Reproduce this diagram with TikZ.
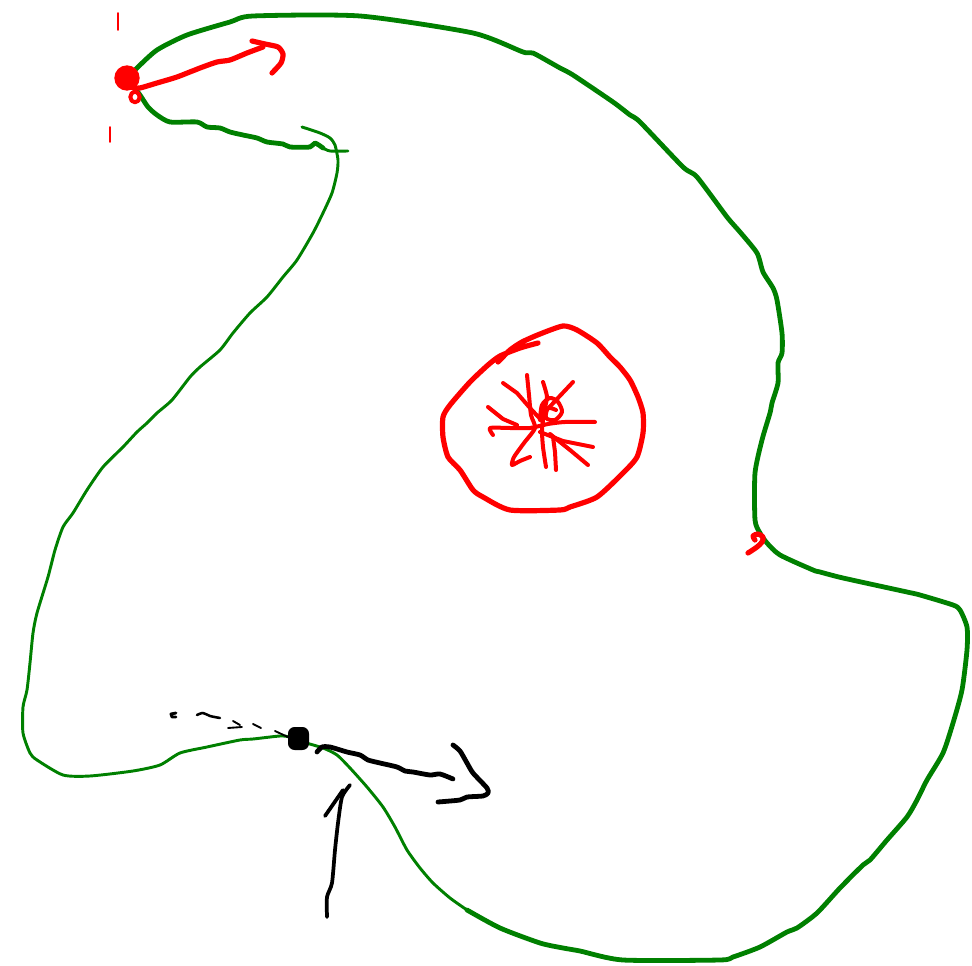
\documentclass[tikz,border=0pt]{standalone}
\usepackage{tikz}
\usetikzlibrary{positioning}

\definecolor{penGreen}{RGB}{0,128,0}
\definecolor{penRed}{RGB}{255,0,0}

\begin{document}
\begin{tikzpicture}[x=0.75pt, y=-0.75pt,
        pen/.style={line cap=round, line join=round},
        greenBold/.style={pen, draw=penGreen, line width=3.6pt},
        greenFine/.style={pen, draw=penGreen, line width=2.2pt},
        redBold/.style={pen, draw=penRed, line width=3.9pt},
        redSpoke/.style={pen, draw=penRed, line width=3pt},
        redTick/.style={pen, draw=penRed, line width=1.3pt},
        blackPen/.style={pen, draw=black, line width=3.6pt},
        blackFine/.style={pen, draw=black, line width=1.4pt}
    ]
        \useasboundingbox (0,0) rectangle (972,966);
        \coordinate (reddot) at (127,78);
        \coordinate (blackdot) at (298,739);

        % outer green rim
        \draw[greenBold] plot[smooth, tension=0.4] coordinates {(128,78) (137,68) (157,50) (187,35) (230,22) (253,16) (360,16) (473,33) (523,52) (533,53) (560,68) (573,75) (613,102) (630,115) (640,122) (683,167) (697,177) (727,217) (740,232) (757,253) (763,272) (773,288) (777,300) (782,333) (782,353) (778,363) (778,383) (772,403) (770,413) (762,440) (755,473) (755,520) (760,533) (767,543) (780,555) (813,570) (820,572) (843,578) (907,592) (920,595) (953,605) (960,610) (967,627) (967,650) (962,690) (953,723) (943,753) (927,780) (917,800) (907,817) (887,840) (870,860) (863,865) (840,888) (817,913) (797,928) (787,932) (760,947) (733,957) (720,960) (623,960) (580,951) (563,948) (540,943) (500,928) (467,910)};

        % inner green line, back round to the top
        \draw[greenFine] plot[smooth, tension=0.4] coordinates {(467,910) (450,898) (433,883) (420,868) (407,850) (395,827) (383,807) (367,787) (350,768) (337,755) (323,748) (303,742) (290,737) (280,736) (253,739) (240,740) (207,747) (180,753) (160,765) (133,771) (90,776) (63,775) (37,760) (30,753) (23,733) (23,707) (27,690) (30,663) (33,633) (37,613) (48,577) (55,550) (63,527) (73,513) (87,490) (103,467) (123,447) (137,432) (147,423) (157,413) (172,400) (190,377) (200,367) (220,350) (233,333) (250,313) (267,297) (283,277) (297,260) (313,233) (323,213) (332,193) (337,173) (338,160) (335,145) (330,138) (320,133) (302,127)};

        % wavy green edge under the red dot
        \draw[greenBold] plot[smooth, tension=0.4] coordinates {(133,86) (140,95) (148,107) (157,115) (170,122) (197,122) (207,127) (220,128) (230,132) (243,135) (257,138) (267,142) (283,144) (290,147) (310,147) (315,143) (323,148)};
        \draw[greenFine] plot[smooth, tension=0.4] coordinates {(323,148) (330,151) (348,151)};

        % red marks at the top
        \draw[redTick] (118,13) -- (118,30);
        \draw[redTick] (110,127) -- (110,142);
        \fill[penRed] (reddot) circle[radius=9.5pt];
        \draw[redSpoke] (135,97) ellipse[x radius=3.5pt, y radius=4pt];
        \draw[redBold] plot[smooth, tension=0.4] coordinates {(133,88) (140,88) (157,83) (177,77) (200,68) (217,62) (230,60) (247,53) (263,47)};
        \draw[redBold] plot[smooth, tension=0.4] coordinates {(252,41) (265,44) (278,47) (283,54) (281,63) (272,73)};

        % red hook on the right
        \draw[redBold] plot[smooth, tension=0.5] coordinates {(748,553) (757,547) (762,542) (763,537) (758,534) (753,536) (755,540)};

        % red ring
        \draw[redBold] plot[smooth, tension=0.4] coordinates {(498,362) (510,350) (522,342) (540,334) (563,326) (577,330) (597,343) (610,357) (620,367) (630,380) (638,397) (643,413) (643,433) (637,457) (623,473) (597,497) (570,507) (560,510) (510,510) (483,497) (473,490) (460,470) (448,457) (443,437) (443,417) (450,405) (470,382) (488,365) (500,356) (520,348) (538,343)};

        % red spokes in the ring
        \draw[redSpoke] (503,383) -- (517,393) -- (530,408) -- (543,422);
        \draw[redSpoke] plot[smooth, tension=0.4] coordinates {(527,375) (529,395) (531,415) (535,428) (524,443) (514,457) (512,465) (520,461) (530,457)};
        \draw[redSpoke] plot[smooth, tension=0.4] coordinates {(543,382) (547,397) (544,412) (542,430) (543,447) (546,467)};
        \draw[redSpoke] (573,382) -- (557,399) -- (543,414);
        \draw[redSpoke] (488,407) -- (503,419) -- (517,425);
        \draw[redSpoke] plot[smooth, tension=0.4] coordinates {(493,435) (490,428) (510,428) (530,428) (548,424) (565,422) (595,422)};
        \draw[redSpoke] (540,432) -- (563,441) -- (593,447);
        \draw[redSpoke] (550,434) -- (570,450) -- (588,465);
        \draw[redSpoke] (553,437) -- (555,452) -- (556,470);
        \draw[redSpoke] plot[smooth, tension=0.5] coordinates {(540,420) (542,405) (550,398) (558,402) (562,412) (555,420) (546,418) (548,408) (556,410)};

        % black marks
        \draw[blackPen, line width=2.2pt] (176,713) -- (171,714) -- (172,717) -- (176,717);
        \draw[blackPen, line width=1.9pt] plot[smooth] coordinates {(197,715) (203,713) (210,716) (220,718)};
        \draw[blackFine] (233,721) -- (240,725);
        \draw[blackFine] (228,728) -- (242,727);
        \draw[blackFine] (253,724) -- (261,728);
        \draw[blackFine] (275,731) -- (290,738);
        \fill[black, rounded corners=5pt] (288,727) rectangle (309,750);

        % black arrows
        \draw[blackPen] plot[smooth, tension=0.4] coordinates {(317,752) (322,747) (330,747) (347,752) (360,755) (368,760) (380,763) (397,767) (405,771) (413,772) (430,775) (440,774) (453,779)};
        \draw[blackPen] plot[smooth, tension=0.4] coordinates {(453,745) (460,751) (467,763) (473,773) (487,788) (488,793) (483,796) (467,797) (460,800) (438,802)};
        \draw[blackPen, line width=2.8pt] plot[smooth, tension=0.4] coordinates {(327,917) (327,897) (332,883) (335,850) (338,823) (342,797) (350,785)};
        \draw[blackPen, line width=2.8pt] (325,816) -- (343,790);
    \end{tikzpicture}
\end{document}
